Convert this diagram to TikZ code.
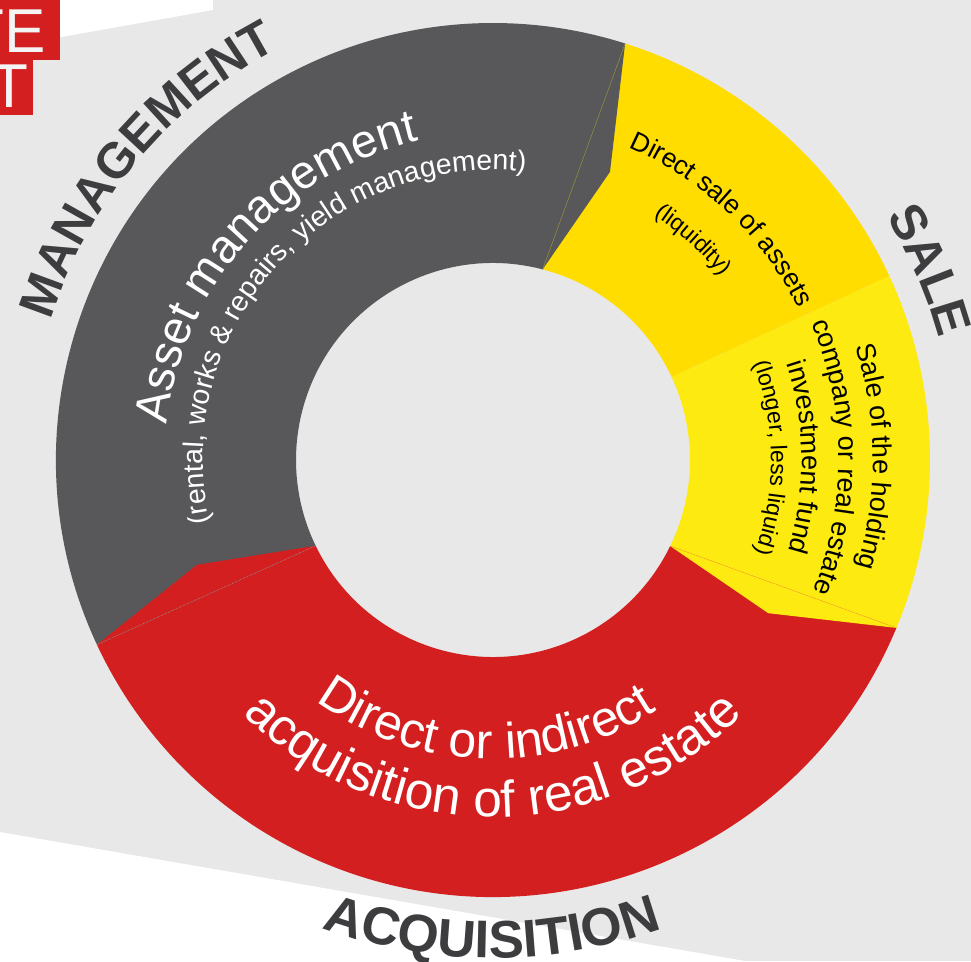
\documentclass[tikz,border=0pt]{standalone}
\usepackage{fontspec}
\setmainfont{Liberation Sans}
\usetikzlibrary{decorations.text}
\definecolor{backdrop}{HTML}{E8E8E8}
\definecolor{slate}{HTML}{58585A}
\definecolor{brick}{HTML}{D31F1F}
\definecolor{gold}{HTML}{FFDD00}
\definecolor{lemon}{HTML}{FCEA10}
\definecolor{ink}{HTML}{3D3D3F}
\newcommand\titlesize{\fontsize{47}{52}\selectfont}
\newcommand\redsize{\fontsize{50}{56}\selectfont}
\newcommand\notesize{\fontsize{28.5}{32}\selectfont}
\newcommand\salesize{\fontsize{27}{30}\selectfont}
\newcommand\smallsize{\fontsize{23}{26}\selectfont}
\newcommand\phasefont{\bfseries\fontsize{50}{56}\selectfont}

\begin{document}
\begin{tikzpicture}[ring text/.style={decorate,decoration={text along path,text align=center,text color=#1}},
  logo letter/.style={inner sep=0pt,text=backdrop!50!white,font=\fontsize{62}{62}\selectfont},
  seam/.style={line width=0.5pt}]
                        \useasboundingbox (-493pt,-501pt) rectangle (478pt,460pt);
                        \clip (-493pt,-501pt) rectangle (478pt,460pt);
                        \fill[backdrop] (-493pt,-501pt) rectangle (478pt,460pt);
                        \fill[white] (-493pt,460pt) -- (-280pt,460pt) -- (-280pt,450pt) -- (-493pt,412pt) -- cycle;
                        \fill[white] (-493pt,-372pt) -- (252pt,-501pt) -- (-493pt,-501pt) -- cycle;
                        \fill[brick] (-493pt,460pt) rectangle (-433pt,400pt);
                        \fill[brick] (-493pt,400pt) rectangle (-460pt,345pt);
                        \begin{scope}
                        \clip (-493pt,460pt) rectangle (-433pt,400pt);
                        \node[logo letter,anchor=base east] (logoTE) at (-447pt,407pt) {TE};
                        \end{scope}
                        \begin{scope}
                        \clip (-493pt,400pt) rectangle (-460pt,345pt);
                        \node[logo letter,anchor=base] (logoT) at (-484pt,352pt) {T};
                        \end{scope}
                        \fill[gold] (72.4:437pt) arc[start angle=72.4,end angle=24.9,radius=437pt] -- (24.9:197pt) arc[start angle=24.9,end angle=75.4,radius=197pt] -- cycle;
                        \fill[lemon] (24.9:437pt) arc[start angle=24.9,end angle=-22.6,radius=437pt] -- (-25.9:197pt) arc[start angle=-25.9,end angle=24.9,radius=197pt] -- cycle;
                        \fill[brick] (-22.6:437pt) arc[start angle=-22.6,end angle=-155,radius=437pt] -- (-154.2:197pt) arc[start angle=-154.2,end angle=-25.9,radius=197pt] -- cycle;
                        \fill[slate] (205:437pt) arc[start angle=205,end angle=72.4,radius=437pt] -- (75.4:197pt) arc[start angle=75.4,end angle=205.8,radius=197pt] -- cycle;
                        \fill[slate] (72.4:437pt) -- (67.9:311pt) -- (75.4:197pt) -- cycle;
                        \fill[brick] (205:437pt) -- (199.5:314pt) -- (205.8:197pt) -- cycle;
                        \fill[lemon] (-22.6:437pt) -- (-29.1:315pt) -- (-25.9:197pt) -- cycle;
                        \draw[seam,olive!60!gray] (72.4:437pt) -- (75.4:197pt);
                        \draw[seam,gray!70,densely dotted] (205:437pt) -- (205.8:197pt);
                        \draw[seam,orange!80,densely dotted] (-22.6:437pt) -- (-25.9:197pt);
                        \path[ring text=white,decoration={text={|\titlesize|Asset management}}]
                        (198.4:328pt) arc[start angle=198.4,end angle=78.4,radius=328pt];
                        \path[ring text=white,decoration={text={|\notesize|(rental, works {\&} repairs, yield management)}}]
                        (200:290pt) arc[start angle=200,end angle=76,radius=290pt];
                        \path[ring text=black,decoration={text={|\fontsize{26.5}{30}\selectfont|Direct sale of assets}}]
                        (86.5:341pt) arc[start angle=86.5,end angle=6.5,radius=341pt];
                        \path[ring text=black,decoration={text={|\smallsize|(liquidity)}}]
                        (87.7:293pt) arc[start angle=87.7,end angle=7.7,radius=293pt];
                        \path[ring text=black,decoration={text={|\salesize|Sale of the holding}}]
                        (45.5:380pt) arc[start angle=45.5,end angle=-44.5,radius=380pt];
                        \path[ring text=black,decoration={text={|\salesize|company or real estate}}]
                        (45.5:346pt) arc[start angle=45.5,end angle=-44.5,radius=346pt];
                        \path[ring text=black,decoration={text={|\salesize|investment fund}}]
                        (45.5:309pt) arc[start angle=45.5,end angle=-44.5,radius=309pt];
                        \path[ring text=black,decoration={text={|\smallsize|(longer, less liquid)}}]
                        (45.5:278pt) arc[start angle=45.5,end angle=-44.5,radius=278pt];
                        \path[ring text=white,decoration={text={|\redsize|Direct or indirect}}]
                        (208.5:299pt) arc[start angle=208.5,end angle=328.5,radius=299pt];
                        \path[ring text=white,decoration={text={|\fontsize{51.5}{56}\selectfont|acquisition of real estate}}]
                        (210:357pt) arc[start angle=210,end angle=330,radius=357pt];
                        \path[ring text=ink,decoration={text={|\phasefont|MANAGEMENT}}]
                        (200:464pt) arc[start angle=200,end angle=80,radius=464pt];
                        \path[ring text=ink,decoration={text={|\phasefont|SALE}}]
                        (60:462pt) arc[start angle=60,end angle=-13,radius=462pt];
                        \path[ring text=ink,decoration={text={|\phasefont\fontsize{53}{58}\selectfont|ACQUISITION}}]
                        (219.9:498pt) arc[start angle=219.9,end angle=319.9,radius=498pt];
                        \end{tikzpicture}
\end{document}
